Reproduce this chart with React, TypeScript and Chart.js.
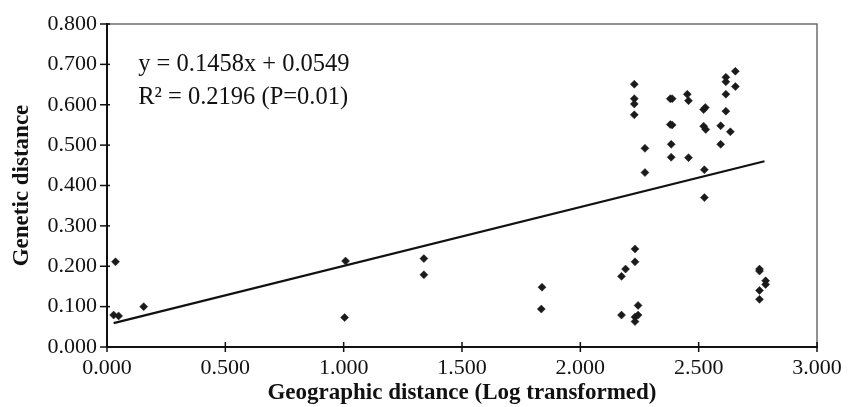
import React, { useEffect, useRef } from "react";
import { Chart, registerables } from "chart.js";

Chart.register(...registerables);

const geoDistance: number[] = [
  0.036, 0.028, 0.049, 0.155,
  1.008, 1.004, 1.339, 1.339, 1.838, 1.835,
  2.228, 2.228, 2.228, 2.228, 2.273, 2.273,
  2.380, 2.388, 2.380, 2.388, 2.384, 2.384,
  2.452, 2.457, 2.457,
  2.528, 2.521, 2.521, 2.530, 2.524, 2.524,
  2.615, 2.615, 2.655, 2.655, 2.615, 2.615, 2.593, 2.634, 2.593,
  2.231, 2.231, 2.191, 2.174, 2.244, 2.174, 2.244, 2.231, 2.231,
  2.757, 2.757, 2.783, 2.783, 2.757, 2.757,
];
const geneticDistance: number[] = [
  0.211, 0.079, 0.077, 0.100,
  0.213, 0.073, 0.219, 0.179, 0.148, 0.094,
  0.651, 0.615, 0.602, 0.575, 0.492, 0.432,
  0.615, 0.615, 0.551, 0.550, 0.502, 0.470,
  0.626, 0.610, 0.469,
  0.593, 0.588, 0.547, 0.539, 0.439, 0.370,
  0.668, 0.657, 0.683, 0.645, 0.626, 0.584, 0.548, 0.533, 0.502,
  0.243, 0.211, 0.193, 0.175, 0.103, 0.079, 0.079, 0.074, 0.063,
  0.193, 0.188, 0.164, 0.155, 0.140, 0.118,
];
const trendX: number[] = [0.028, 2.778];
const trendY: number[] = [0.059, 0.46];

const xTicks: number[] = [0, 0.5, 1, 1.5, 2, 2.5, 3];
const yTicks: number[] = [0, 0.1, 0.2, 0.3, 0.4, 0.5, 0.6, 0.7, 0.8];

const equationLines: string[] = ["y = 0.1458x + 0.0549", "R\u00B2 = 0.2196 (P=0.01)"];
const equationPos: { x: number; y: number }[] = [
  { x: 0.132, y: 0.7 },
  { x: 0.132, y: 0.619 },
];

const xTitle = "Geographic distance (Log transformed)";
const yTitle = "Genetic distance";

const FONT = "'Liberation Serif', 'Times New Roman', serif";

const framePlugin = {
  id: "frameAndTicks",
  afterDraw(chart: any) {
    const { ctx, chartArea, scales } = chart;
    const xs = scales.x;
    const ys = scales.y;
    ctx.save();
    ctx.strokeStyle = "#6e6e6e";
    ctx.lineWidth = 1.5;
    ctx.beginPath();
    ctx.moveTo(chartArea.left, chartArea.top);
    ctx.lineTo(chartArea.right, chartArea.top);
    ctx.lineTo(chartArea.right, chartArea.bottom);
    ctx.stroke();
    ctx.strokeStyle = "#111";
    ctx.lineWidth = 2;
    ctx.beginPath();
    ctx.moveTo(chartArea.left, chartArea.top - 1);
    ctx.lineTo(chartArea.left, chartArea.bottom);
    ctx.lineTo(chartArea.right + 1, chartArea.bottom);
    ctx.stroke();
    ctx.lineWidth = 1.5;
    yTicks.forEach((v) => {
      const py = ys.getPixelForValue(v);
      ctx.beginPath();
      ctx.moveTo(chartArea.left - 7, py);
      ctx.lineTo(chartArea.left + 3, py);
      ctx.stroke();
    });
    xTicks.forEach((v) => {
      const px = xs.getPixelForValue(v);
      ctx.beginPath();
      ctx.moveTo(px, chartArea.bottom - 5);
      ctx.lineTo(px, chartArea.bottom + 5);
      ctx.stroke();
    });
    ctx.fillStyle = "#111";
    ctx.font = `24.5px ${FONT}`;
    ctx.textAlign = "left";
    ctx.textBaseline = "middle";
    equationLines.forEach((t, i) => {
      ctx.fillText(t, xs.getPixelForValue(equationPos[i].x), ys.getPixelForValue(equationPos[i].y));
    });
    ctx.restore();
  },
};

export default function App() {
  const ref = useRef<HTMLCanvasElement | null>(null);
  useEffect(() => {
    document.body.style.margin = "0";
    const canvas = ref.current;
    if (!canvas) return;
    const chart = new Chart(canvas, {
      type: "scatter",
      data: {
        datasets: [
          {
            label: "data",
            data: geoDistance.map((x, i) => ({ x, y: geneticDistance[i] })),
            pointStyle: "rectRot",
            pointRadius: 4,
            pointBackgroundColor: "#1a1a1a",
            pointBorderColor: "#1a1a1a",
            pointBorderWidth: 0.5,
            showLine: false,
          },
          {
            label: "trend",
            data: trendX.map((x, i) => ({ x, y: trendY[i] })),
            showLine: true,
            borderColor: "#111",
            borderWidth: 2.2,
            pointRadius: 0,
          } as any,
        ],
      },
      options: {
        animation: false,
        responsive: false,
        maintainAspectRatio: false,
        layout: { padding: { top: 24, right: 35, left: 0, bottom: 0 } },
        plugins: { legend: { display: false }, tooltip: { enabled: false } },
        scales: {
          x: {
            type: "linear",
            min: 0,
            max: 3,
            afterBuildTicks(scale: any) {
              scale.ticks = xTicks.map((v) => ({ value: v }));
            },
            afterFit(scale: any) {
              scale.height = 60;
            },
            grid: { display: false, drawTicks: false },
            border: { display: false },
            ticks: {
              padding: 8,
              color: "#111",
              font: { family: FONT, size: 22 },
              callback: (v: any) => Number(v).toFixed(3),
            },
            title: {
              display: true,
              text: xTitle,
              color: "#111",
              font: { family: FONT, size: 23, weight: "bold" },
              padding: { top: 0, bottom: 0 },
            },
          },
          y: {
            type: "linear",
            min: 0,
            max: 0.8,
            afterBuildTicks(scale: any) {
              scale.ticks = yTicks.map((v) => ({ value: v }));
            },
            afterFit(scale: any) {
              scale.width = 107;
            },
            grid: { display: false, drawTicks: false },
            border: { display: false },
            ticks: {
              padding: 10,
              color: "#111",
              font: { family: FONT, size: 22 },
              callback: (v: any) => Number(v).toFixed(3),
            },
            title: {
              display: true,
              text: yTitle,
              color: "#111",
              font: { family: FONT, size: 23, weight: "bold" },
              padding: { top: 8, bottom: 0 },
            },
          },
        },
      },
      plugins: [framePlugin],
    });
    return () => chart.destroy();
  }, []);
  return (
    <div style={{ position: "relative", width: 852, height: 407 }}>
      <canvas ref={ref} width={852} height={407} style={{ width: 852, height: 407, display: "block" }} />
    </div>
  );
}
